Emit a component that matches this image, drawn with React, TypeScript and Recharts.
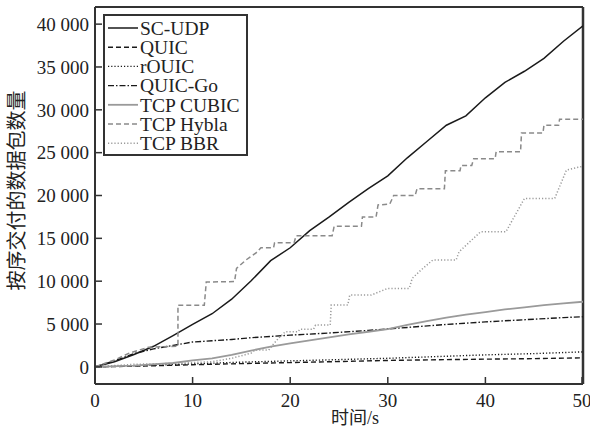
import React from 'react';
import { LineChart, Line, XAxis, YAxis, Legend, ReferenceLine } from 'recharts';

// [time (s), in-order delivered packets]
const SC_UDP: number[][] = [[0,0],[2,600],[4,1450],[6,2400],[8,3650],[10,4950],[12,6200],[14,7900],[16,10050],[18,12400],[20,13900],[22,15900],[24,17500],[26,19200],[28,20800],[30,22300],[32,24400],[34,26300],[36,28200],[38,29300],[40,31400],[42,33200],[44,34500],[46,36000],[48,38000],[50,39800]];
const QUIC: number[][] = [[0,0],[5,100],[10,250],[15,380],[20,500],[25,620],[30,750],[35,830],[40,900],[45,960],[50,1050]];
const RQUIC: number[][] = [[0,0],[5,150],[10,350],[15,550],[20,700],[25,850],[30,1000],[35,1200],[40,1400],[45,1550],[50,1750]];
const QUIC_GO: number[][] = [[0,0],[2,700],[4,1550],[6,2100],[8,2500],[10,2900],[12,3050],[14,3200],[16,3400],[20,3700],[24,3950],[28,4250],[32,4600],[36,4950],[40,5250],[44,5500],[48,5750],[50,5850]];
const TCP_CUBIC: number[][] = [[0,0],[4,150],[8,450],[10,750],[12,1000],[14,1400],[16,1900],[18,2350],[20,2750],[22,3100],[24,3450],[26,3800],[28,4100],[30,4400],[32,4900],[34,5350],[36,5750],[38,6100],[40,6400],[42,6700],[44,6950],[46,7200],[48,7400],[50,7600]];
const TCP_HYBLA: number[][] = [[0,0],[2,800],[3.5,1600],[5.5,2300],[8.5,2400],[8.5,7200],[11.2,7200],[11.4,9900],[14.3,9950],[14.5,11500],[15.5,12500],[16.5,13300],[17,13900],[18.3,13900],[18.4,14500],[20.4,14500],[20.6,15300],[24.3,15300],[24.5,16400],[27.3,16400],[27.4,17500],[28.8,17500],[29,18900],[30.2,19000],[30.6,20000],[32.8,20000],[33,20800],[35.8,20800],[35.9,22900],[37.4,22900],[37.5,23500],[38.6,23500],[38.8,24300],[41,24300],[41.1,25100],[43.6,25100],[43.7,27300],[45.9,27300],[46,28200],[47.5,28200],[47.6,28900],[50,28900]];
const TCP_BBR: number[][] = [[0,0],[4,300],[8,400],[12,600],[14,1000],[16,1600],[16.4,1970],[17.8,1970],[18.2,2550],[18.8,3330],[19.5,4100],[20.8,4100],[21,4400],[22.4,4400],[22.6,4880],[24.1,4880],[24.2,7210],[25.9,7210],[26.1,8380],[28.3,8380],[30,9160],[32.2,9160],[32.5,10330],[33.4,11300],[34.6,12460],[37,12460],[37.3,13430],[39.5,15760],[42.1,15760],[44,19650],[47.1,19650],[48.3,22960],[49.5,23300],[50,23400]];

const X_DOMAIN = [0, 50];
const Y_DOMAIN = [-2000, 42000];
const X_TICKS = [0, 10, 20, 30, 40, 50];
const X_TICK_LABELS = ['0', '10', '20', '30', '40', '50'];
const Y_TICKS = [0, 5000, 10000, 15000, 20000, 25000, 30000, 35000, 40000];
const Y_TICK_LABELS = ['0', '5 000', '10 000', '15 000', '20 000', '25 000', '30 000', '35 000', '40 000'];

const SERIES = [
  { name: 'SC-UDP', data: SC_UDP, color: '#1a1a1a', width: 1.5, dash: undefined as string | undefined },
  { name: 'QUIC', data: QUIC, color: '#1a1a1a', width: 1.4, dash: '5 3' },
  { name: 'rOUIC', data: RQUIC, color: '#1a1a1a', width: 1.4, dash: '1.2 2' },
  { name: 'QUIC-Go', data: QUIC_GO, color: '#1a1a1a', width: 1.4, dash: '6 2 1.5 2' },
  { name: 'TCP CUBIC', data: TCP_CUBIC, color: '#9a9a9a', width: 1.8, dash: undefined },
  { name: 'TCP Hybla', data: TCP_HYBLA, color: '#8a8a8a', width: 1.5, dash: '5 3' },
  { name: 'TCP BBR', data: TCP_BBR, color: '#9a9a9a', width: 1.5, dash: '1.2 2' },
];

const SERIF = "'Liberation Serif', 'Times New Roman', serif";
const CJK = "'Liberation Serif', 'Noto Sans CJK SC', serif";
const AXIS_COLOR = '#333';
const TEXT_COLOR = '#222';

const YTick = (props: any) => {
  const { x, y, payload } = props;
  const idx = Y_TICKS.indexOf(payload.value);
  return (
    <g>
      <line x1={x + 7} x2={x + 14} y1={y} y2={y} stroke={AXIS_COLOR} strokeWidth={1.5} />
      <text x={x + 1} y={y} dy="0.36em" textAnchor="end" style={{ fontFamily: SERIF, fontSize: 19 }} fill={TEXT_COLOR}>
        {idx >= 0 ? Y_TICK_LABELS[idx] : payload.value}
      </text>
    </g>
  );
};

const XTick = (props: any) => {
  const { x, y, payload } = props;
  const idx = X_TICKS.indexOf(payload.value);
  return (
    <g>
      <line x1={x} x2={x} y1={y - 6} y2={y - 13} stroke={AXIS_COLOR} strokeWidth={1.5} />
      <text x={x} y={y} dy="0.9em" textAnchor="middle" style={{ fontFamily: SERIF, fontSize: 19 }} fill={TEXT_COLOR}>
        {idx >= 0 ? X_TICK_LABELS[idx] : payload.value}
      </text>
    </g>
  );
};

const LegendBox = () => (
  <div style={{ width: 141, height: 138, border: `2px solid ${AXIS_COLOR}`, background: '#fff' }}>
    <svg width={141} height={138}>
      {SERIES.map((s, i) => {
        const cy = 12 + i * 19.2;
        return (
          <g key={s.name}>
            <line x1={3} x2={33} y1={cy} y2={cy} stroke={s.color} strokeWidth={s.width} strokeDasharray={s.dash} />
            <text x={35} y={cy} dy="0.35em" style={{ fontFamily: SERIF, fontSize: 19.5 }} fill={TEXT_COLOR}>{s.name}</text>
          </g>
        );
      })}
    </svg>
  </div>
);

export default function App() {
  return (
    <div style={{ position: 'absolute', left: 0, top: 0, width: 590, height: 430, background: '#fff' }}>
      <LineChart width={590} height={430} margin={{ top: 7, right: 7, left: 0, bottom: 0 }}>
        <XAxis
          type="number"
          dataKey="t"
          domain={X_DOMAIN}
          ticks={X_TICKS}
          height={46}
          tickSize={0}
          tickMargin={6}
          tick={<XTick />}
          axisLine={{ stroke: AXIS_COLOR, strokeWidth: 2 }}
          tickLine={false}
          allowDataOverflow
          label={{
            content: (p: any) => {
              const vb = p.viewBox || { x: 95, y: 384, width: 488 };
              return (
                <text x={vb.x + vb.width / 2 + 16} y={vb.y + 40} textAnchor="middle" style={{ fontFamily: CJK, fontSize: 18 }} fill={TEXT_COLOR}>
                  时间/s
                </text>
              );
            },
          }}
        />
        <YAxis
          type="number"
          domain={Y_DOMAIN}
          ticks={Y_TICKS}
          width={95}
          tickSize={0}
          tickMargin={7}
          tick={<YTick />}
          axisLine={{ stroke: AXIS_COLOR, strokeWidth: 2 }}
          tickLine={false}
          allowDataOverflow
          label={{
            content: (p: any) => {
              const vb = p.viewBox || { x: 0, y: 7, width: 95, height: 377 };
              const cx = 17;
              const cy = vb.y + vb.height / 2 - 5;
              return (
                <text x={cx} y={cy} dy="0.35em" textAnchor="middle" transform={`rotate(-90, ${cx}, ${cy})`} style={{ fontFamily: CJK, fontSize: 20 }} fill={TEXT_COLOR}>
                  按序交付的数据包数量
                </text>
              );
            },
          }}
        />
        <ReferenceLine y={Y_DOMAIN[1]} stroke={AXIS_COLOR} strokeWidth={2} ifOverflow="visible" />
        <ReferenceLine x={X_DOMAIN[1]} stroke={AXIS_COLOR} strokeWidth={2.5} ifOverflow="visible" />
        {SERIES.map((s) => (
          <Line
            key={s.name}
            name={s.name}
            data={s.data.map(([t, v]) => ({ t, v }))}
            dataKey="v"
            type="linear"
            stroke={s.color}
            strokeWidth={s.width}
            strokeDasharray={s.dash}
            dot={false}
            activeDot={false}
            isAnimationActive={false}
          />
        ))}
        <Legend
          layout="horizontal"
          verticalAlign="middle"
          align="center"
          wrapperStyle={{ left: 103, top: 14, width: 145, height: 142 }}
          content={() => <LegendBox />}
        />
      </LineChart>
    </div>
  );
}
